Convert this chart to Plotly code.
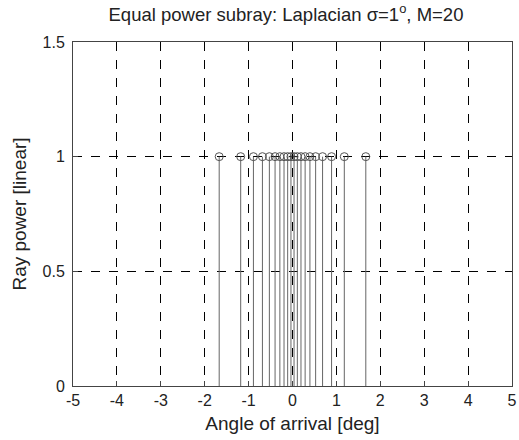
import plotly.graph_objects as go

angles = [-1.67, -1.18, -0.89, -0.685, -0.527, -0.397, -0.288, -0.193, -0.11, -0.035,
          0.035, 0.11, 0.193, 0.288, 0.397, 0.527, 0.685, 0.89, 1.18, 1.67]
powers = [1.0] * 20

x_ticks = [-5, -4, -3, -2, -1, 0, 1, 2, 3, 4, 5]
y_ticks = [0, 0.5, 1, 1.5]
y_tick_labels = ["0", "0.5", "1", "1.5"]

fig = go.Figure()
fig.add_trace(go.Scatter(
    x=angles, y=powers, mode="markers",
    marker=dict(symbol="circle-open", size=8, color="#555555", line=dict(width=1)),
    error_y=dict(type="data", symmetric=False, array=[0] * len(powers),
                 arrayminus=powers, width=0, thickness=1, color="#666666"),
    showlegend=False,
    cliponaxis=False,
))

font = dict(family="Liberation Sans, Arial, sans-serif", size=16, color="#222222")
fig.update_layout(
    width=519, height=440,
    margin=dict(l=73, r=7, t=42, b=54),
    paper_bgcolor="white", plot_bgcolor="white",
    font=font,
    title=dict(text="Equal power subray: Laplacian σ=1<sup>o</sup>, M=20",
               x=0.551, xanchor="center", y=0.967, yanchor="middle",
               font=dict(size=18.5)),
)
fig.update_xaxes(
    range=[-5, 5], tickvals=x_ticks, ticktext=[str(v) for v in x_ticks],
    showline=True, linecolor="#444444", linewidth=1, mirror=True,
    ticks="inside", ticklen=5, tickcolor="#444444",
    showgrid=True, gridcolor="black", griddash="dash", gridwidth=1,
    zeroline=False, automargin=False, ticklabeloverflow="allow",
    title=dict(text="Angle of arrival [deg]", standoff=8),
)
fig.update_yaxes(
    range=[0, 1.5], tickvals=y_ticks, ticktext=y_tick_labels,
    showline=True, linecolor="#444444", linewidth=1, mirror=True,
    ticks="inside", ticklen=5, tickcolor="#444444", ticklabelstandoff=4,
    showgrid=True, gridcolor="black", griddash="dash", gridwidth=1,
    zeroline=False, automargin=False, ticklabeloverflow="allow",
    title=dict(text="Ray power [linear]", standoff=10),
)
fig.write_html("out.html", config={"displayModeBar": False},
               post_script="document.body.style.margin='0';")
